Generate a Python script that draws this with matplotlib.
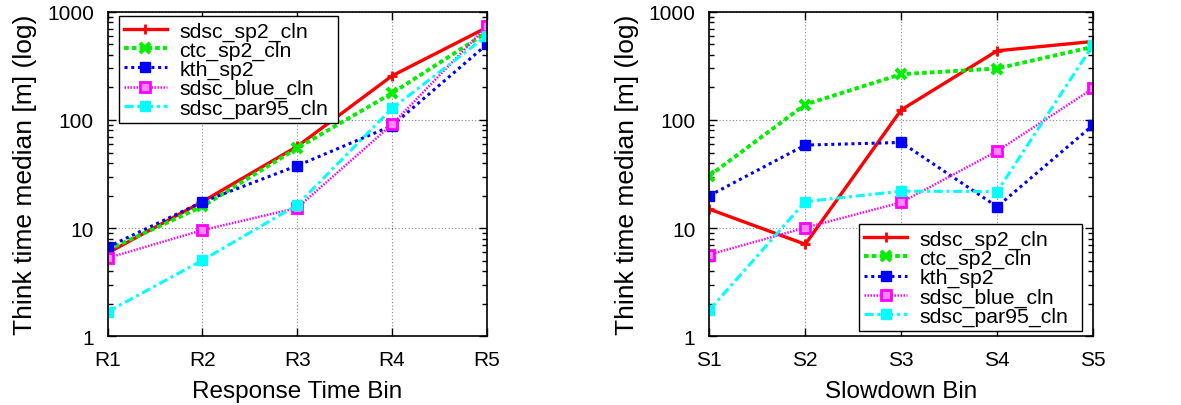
import matplotlib
matplotlib.use("Agg")
import matplotlib.pyplot as plt
from matplotlib.ticker import LogLocator, NullFormatter, FixedLocator, FixedFormatter

plt.rcParams['font.family'] = ['Liberation Sans', 'DejaVu Sans']

series_names = ["sdsc_sp2_cln", "ctc_sp2_cln", "kth_sp2", "sdsc_blue_cln", "sdsc_par95_cln"]

response_bins = ["R1", "R2", "R3", "R4", "R5"]
resp_sdsc_sp2 = [5.9, 17.6, 57, 256, 716]
resp_ctc_sp2 = [6.3, 15.9, 55, 177, 644]
resp_kth_sp2 = [6.7, 17.5, 37.8, 88.5, 499]
resp_sdsc_blue = [5.3, 9.6, 15.4, 91, 733]
resp_sdsc_par95 = [1.69, 5.05, 16.4, 128, 600]

slowdown_bins = ["S1", "S2", "S3", "S4", "S5"]
slow_sdsc_sp2 = [15, 7.1, 124, 436, 532]
slow_ctc_sp2 = [30.5, 139, 265, 299, 475]
slow_kth_sp2 = [20, 58.6, 62, 15.8, 89.8]
slow_sdsc_blue = [5.7, 10.1, 17.3, 51.6, 196]
slow_sdsc_par95 = [1.75, 17.6, 22, 21.8, 496]

y_ticks = [1, 10, 100, 1000]
y_tick_labels = ["1", "10", "100", "1000"]

styles = [
    dict(color="#ff0000", ls="-", lw=2.4, marker="+", ms=7, mew=2),
    dict(color="#00ee00", ls=(0, (1.2, 0.8)), lw=2.8, marker="x", ms=7, mew=3),
    dict(color="#0000ff", ls=(0, (1, 1.2)), lw=2.2, marker="s", ms=6.5, mew=1),
    dict(color="#ff00ff", ls=(0, (0.6, 0.6)), lw=1.8, marker="s", ms=7.5, mew=2,
         mfc="#ff88ff"),
    dict(color="#00ffff", ls=(0, (3, 1.2, 1, 1.2)), lw=2.2, marker="s", ms=6.5, mew=1),
]

fig = plt.figure(figsize=(11.81, 4.06), dpi=100)
ax1 = fig.add_axes([0.0912, 0.169, 0.321, 0.7995])
ax2 = fig.add_axes([0.6006, 0.169, 0.325, 0.7995])


def draw(ax, bins, data, xlabel, legend_loc, legend_box):
    x = list(range(len(bins)))
    for name, vals, st in zip(series_names, data, styles):
        st = dict(st)
        mfc = st.pop("mfc", st["color"])
        ax.plot(x, vals, label=name, mfc=mfc, mec=st["color"], **st)
    ax.set_yscale("log")
    ax.set_ylim(1, 1000)
    ax.set_xlim(0, len(bins) - 1)
    ax.xaxis.set_major_locator(FixedLocator(x))
    ax.xaxis.set_major_formatter(FixedFormatter(bins))
    ax.yaxis.set_major_locator(FixedLocator(y_ticks))
    ax.yaxis.set_major_formatter(FixedFormatter(y_tick_labels))
    ax.yaxis.set_minor_locator(LogLocator(base=10, subs=range(2, 10)))
    ax.yaxis.set_minor_formatter(NullFormatter())
    ax.tick_params(which="both", direction="in", top=True, right=True,
                   labelsize=15)
    ax.tick_params(axis="x", pad=10)
    ax.tick_params(axis="y", pad=10)
    ax.tick_params(which="major", length=6, width=1)
    ax.tick_params(which="minor", length=3.5, width=1)
    ax.grid(True, which="major", color="#888888", ls=(0, (1, 2)), lw=0.8)
    for sp in ax.spines.values():
        sp.set_linewidth(1.2)
    ax.set_xlabel(xlabel, fontsize=17.5, labelpad=8)
    ax.set_ylabel("Think time median [m] (log)", fontsize=19, labelpad=7)
    leg = ax.legend(loc=legend_loc, bbox_to_anchor=legend_box, mode="expand",
                    fontsize=15.3, fancybox=False, framealpha=1,
                    edgecolor="black", handlelength=2.0, labelspacing=0.0,
                    borderpad=0.25, handletextpad=0.6, borderaxespad=0.0)
    leg.get_frame().set_linewidth(1.0)


draw(ax1, response_bins,
     [resp_sdsc_sp2, resp_ctc_sp2, resp_kth_sp2, resp_sdsc_blue, resp_sdsc_par95],
     "Response Time Bin", "upper left", (0.029, 0.654, 0.578, 0.333))
draw(ax2, slowdown_bins,
     [slow_sdsc_sp2, slow_ctc_sp2, slow_kth_sp2, slow_sdsc_blue, slow_sdsc_par95],
     "Slowdown Bin", "lower left", (0.390, 0.016, 0.581, 0.327))

fig.savefig("out.png", dpi=100)
